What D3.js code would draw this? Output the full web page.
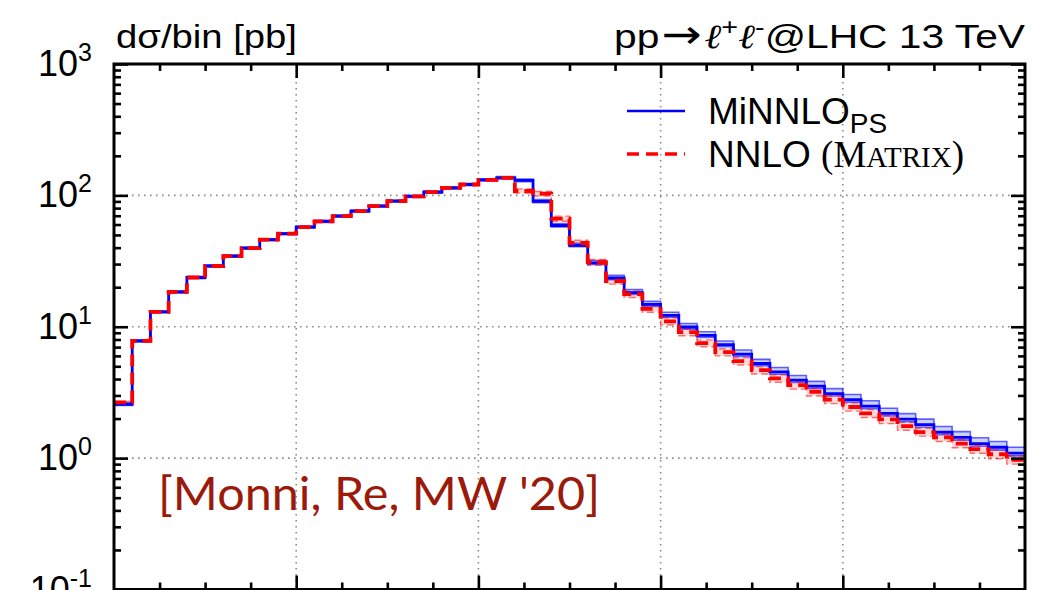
<!DOCTYPE html>
<html>
<head>
<meta charset="utf-8">
<script src="https://cdn.jsdelivr.net/npm/d3@7"></script>
<style>
  body { margin: 0; background: #fff; }
  text { font-family: "Liberation Sans", Arial, sans-serif; fill: #000; }
</style>
</head>
<body>
<script>
// bin edges in m_ll [GeV]
var binEdges = [50,52,54,56,58,60,62,64,66,68,70,72,74,76,78,80,82,84,86,88,90,
  92,94,96,98,100,102,104,106,108,110,112,114,116,118,120,122,124,126,128,130,
  132,134,136,138,140,142,144,146,148,150];

// MiNNLO_PS central + band
var minnlo = [2.57,7.8,13.0,18.4,23.7,29.0,34.5,39.7,46.0,51.1,57.4,63.4,69.6,76.0,82.9,90.5,
  98.3,106,114,121,131,136,130,90,59,41.7,30.6,23.5,18.2,14.8,12.2,9.96,8.6,7.3,6.18,5.25,
  4.53,3.92,3.53,3.10,2.79,2.49,2.19,1.98,1.80,1.58,1.44,1.29,1.21,1.09];
var minnloHi = [2.62,7.95,13.2,18.7,24.1,29.5,35.1,40.4,46.8,52.0,58.4,64.5,70.8,77.3,84.3,92.0,
  100,108,116,123,134,139,133,93,61,43.3,31.9,24.6,19.2,15.6,12.9,10.6,9.15,7.8,6.65,5.65,
  4.9,4.25,3.84,3.38,3.05,2.73,2.40,2.18,1.98,1.74,1.59,1.43,1.34,1.21];
var minnloLo = [2.52,7.65,12.8,18.1,23.3,28.5,33.9,39.0,45.2,50.2,56.4,62.3,68.4,74.7,81.5,89.0,
  96.6,104,112,119,129,134,127,88,57.5,40.6,29.8,22.8,17.6,14.3,11.8,9.6,8.3,7.05,5.95,5.05,
  4.35,3.76,3.38,2.97,2.67,2.38,2.09,1.89,1.72,1.51,1.37,1.23,1.15,1.04];

// NNLO (MATRIX) central + band
var nnlo = [2.66,7.8,13.0,18.4,23.7,29.0,34.5,39.7,46.0,51.1,57.4,63.4,69.6,76.0,82.9,90.5,
  98.3,106,114,121,131,136,108,103,66.5,43.4,31.0,22.3,17.7,13.7,11.0,9.1,7.5,6.4,5.47,4.67,
  4.04,3.59,3.19,2.79,2.45,2.19,1.97,1.75,1.58,1.44,1.29,1.17,1.07,0.97];
var nnloHi = [2.70,7.92,13.2,18.7,24.1,29.4,35.0,40.3,46.7,51.9,58.3,64.4,70.6,77.1,84.1,91.9,
  99.8,108,116,123,133,138,112,107,69.5,45.5,32.6,23.5,18.7,14.5,11.7,9.65,7.95,6.8,5.82,4.97,
  4.3,3.83,3.40,2.98,2.62,2.34,2.11,1.87,1.69,1.54,1.38,1.25,1.15,1.04];
var nnloLo = [2.62,7.68,12.8,18.1,23.3,28.6,34.0,39.1,45.3,50.3,56.5,62.4,68.6,74.9,81.7,89.1,
  96.8,104,112,119,129,134,104,99,63.5,41.3,29.4,21.1,16.7,12.9,10.3,8.55,7.05,6.0,5.12,4.37,
  3.78,3.35,2.97,2.60,2.28,2.04,1.83,1.63,1.47,1.34,1.20,1.09,0.99,0.90];

var yMajor = [0.1, 1, 10, 100, 1000];
var yExp = ["-1", "0", "1", "2", "3"];
var xMajor = [70, 90, 110, 130];

var W = 1048, H = 590;
var pL = 114, pR = 1025, pT = 64, pB = 589.5;

var svg = d3.select("body").append("svg")
  .attr("width", W).attr("height", H);

var x = d3.scaleLinear().domain([50, 150]).range([pL, pR]);
var y = d3.scaleLog().domain([0.1, 1000]).range([pB, pT]);

// minor tick values
var yMinor = [];
[0.1, 1, 10, 100].forEach(function(d){ for (var k = 2; k <= 9; k++) yMinor.push(d * k); });
var xMinor = d3.range(55, 150, 5).filter(function(d){ return xMajor.indexOf(d) < 0; });

// grid
var grid = svg.append("g").attr("stroke", "#8a8a8a").attr("stroke-width", 1.6)
  .attr("stroke-dasharray", "1.6,4.4");
grid.selectAll(".gx").data(xMajor).enter().append("line")
  .attr("x1", function(d){ return x(d); }).attr("x2", function(d){ return x(d); })
  .attr("y1", pT).attr("y2", pB);
grid.selectAll(".gy").data([1, 10, 100]).enter().append("line")
  .attr("x1", pL).attr("x2", pR)
  .attr("y1", function(d){ return y(d); }).attr("y2", function(d){ return y(d); });

// step helpers
function pts(vals){
  var p = vals.map(function(v, i){ return [binEdges[i], v]; });
  p.push([binEdges[binEdges.length - 1], vals[vals.length - 1]]);
  return p;
}
var line = d3.line().curve(d3.curveStepAfter)
  .x(function(d){ return x(d[0]); }).y(function(d){ return y(d[1]); });
function band(lo, hi){
  var p = lo.map(function(v, i){ return [binEdges[i], v, hi[i]]; });
  p.push([binEdges[binEdges.length - 1], lo[lo.length - 1], hi[hi.length - 1]]);
  return d3.area().curve(d3.curveStepAfter)
    .x(function(d){ return x(d[0]); })
    .y0(function(d){ return y(d[1]); })
    .y1(function(d){ return y(d[2]); })(p);
}

var plot = svg.append("g");

// blue band
plot.append("path").attr("d", band(minnloLo, minnloHi))
  .attr("fill", "rgba(90,110,255,0.3)").attr("stroke", "none");
[minnloLo, minnloHi].forEach(function(s){
  plot.append("path").attr("d", line(pts(s))).attr("fill", "none")
    .attr("stroke", "rgba(0,0,255,0.6)").attr("stroke-width", 1.6);
});
// red band
plot.append("path").attr("d", band(nnloLo, nnloHi))
  .attr("fill", "rgba(255,60,60,0.2)").attr("stroke", "none");
[nnloLo, nnloHi].forEach(function(s){
  plot.append("path").attr("d", line(pts(s))).attr("fill", "none")
    .attr("stroke", "rgba(255,0,0,0.55)").attr("stroke-width", 1.4)
    .attr("stroke-dasharray", "7,4");
});
// central lines
plot.append("path").attr("d", line(pts(minnlo))).attr("fill", "none")
  .attr("stroke", "#0000ff").attr("stroke-width", 2.8);
plot.append("path").attr("d", line(pts(nnlo))).attr("fill", "none")
  .attr("stroke", "#ff0000").attr("stroke-width", 3.8)
  .attr("stroke-dasharray", "12,6");

// axes (ticks pointing inward)
function styleAxis(g){
  g.select(".domain").remove();
  g.selectAll("line").attr("stroke", "#000").attr("stroke-width", 2.6);
  g.selectAll("text").remove();
}
svg.append("g").attr("transform", "translate(" + pL + ",0)")
  .call(d3.axisLeft(y).tickValues(yMajor).tickSize(-14)).call(styleAxis);
svg.append("g").attr("transform", "translate(" + pL + ",0)")
  .call(d3.axisLeft(y).tickValues(yMinor).tickSize(-7)).call(styleAxis);
svg.append("g").attr("transform", "translate(" + pR + ",0)")
  .call(d3.axisRight(y).tickValues(yMajor).tickSize(-14)).call(styleAxis);
svg.append("g").attr("transform", "translate(" + pR + ",0)")
  .call(d3.axisRight(y).tickValues(yMinor).tickSize(-7)).call(styleAxis);
svg.append("g").attr("transform", "translate(0," + pT + ")")
  .call(d3.axisTop(x).tickValues(xMajor).tickSize(-14)).call(styleAxis);
svg.append("g").attr("transform", "translate(0," + pT + ")")
  .call(d3.axisTop(x).tickValues(xMinor).tickSize(-7)).call(styleAxis);
svg.append("g").attr("transform", "translate(0," + pB + ")")
  .call(d3.axisBottom(x).tickValues(xMajor).tickSize(-14)).call(styleAxis);
svg.append("g").attr("transform", "translate(0," + pB + ")")
  .call(d3.axisBottom(x).tickValues(xMinor).tickSize(-7)).call(styleAxis);

// frame
svg.append("rect").attr("x", pL).attr("y", pT)
  .attr("width", pR - pL).attr("height", pB - pT)
  .attr("fill", "none").attr("stroke", "#000").attr("stroke-width", 3);

// y tick labels 10^n
yMajor.forEach(function(v, i){
  var t = svg.append("text").attr("x", 92).attr("y", y(v) + 12)
    .attr("text-anchor", "end").style("font-size", "36px");
  t.append("tspan").text("10");
  t.append("tspan").attr("dy", -15).style("font-size", "25px").text(yExp[i]);
});

// titles
svg.append("text").attr("x", 116).attr("y", 48).style("font-size", "34px")
  .attr("textLength", 181).attr("lengthAdjust", "spacingAndGlyphs")
  .text("dσ/bin [pb]");
var tt = svg.append("text").attr("x", 614).attr("y", 48)
  .style("font-size", "34px")
  .attr("textLength", 411).attr("lengthAdjust", "spacingAndGlyphs");
tt.append("tspan").text("pp");
tt.append("tspan").text("→").attr("dx", 2).style("font-size", "40px")
  .style("font-family", "'DejaVu Sans', sans-serif");
tt.append("tspan").text("ℓ").attr("dx", 2).style("font-family", "'DejaVu Serif', serif")
  .style("font-style", "italic");
tt.append("tspan").text("+").attr("dy", -13).style("font-size", "24px");
tt.append("tspan").text("ℓ").attr("dy", 13).style("font-family", "'DejaVu Serif', serif")
  .style("font-style", "italic");
tt.append("tspan").text("-").attr("dy", -13).style("font-size", "24px");
tt.append("tspan").text("@LHC 13 TeV").attr("dy", 13);

// legend
svg.append("line").attr("x1", 627).attr("x2", 685).attr("y1", 111).attr("y2", 111)
  .attr("stroke", "#0000ff").attr("stroke-width", 2.4);
svg.append("line").attr("x1", 627).attr("x2", 685).attr("y1", 154).attr("y2", 154)
  .attr("stroke", "#ff0000").attr("stroke-width", 3.6).attr("stroke-dasharray", "12,7");
var l1 = svg.append("text").attr("x", 708).attr("y", 124).style("font-size", "37px");
l1.append("tspan").text("MiNNLO");
l1.append("tspan").text("PS").attr("dy", 9).style("font-size", "28px");
var l2 = svg.append("text").attr("x", 708).attr("y", 167).style("font-size", "37px");
l2.append("tspan").text("NNLO ");
l2.append("tspan").text("(M").style("font-family", "'Liberation Serif', serif");
l2.append("tspan").text("ATRIX").style("font-family", "'Liberation Serif', serif").style("font-size", "29px");
l2.append("tspan").text(")").style("font-family", "'Liberation Serif', serif");

// citation
svg.append("text").attr("x", 158).attr("y", 510).style("font-size", "47px")
  .style("font-family", "Lato, sans-serif").style("fill", "#9b1a0c")
  .attr("textLength", 442).attr("lengthAdjust", "spacingAndGlyphs")
  .text("[Monni, Re, MW '20]");
</script>
</body>
</html>
